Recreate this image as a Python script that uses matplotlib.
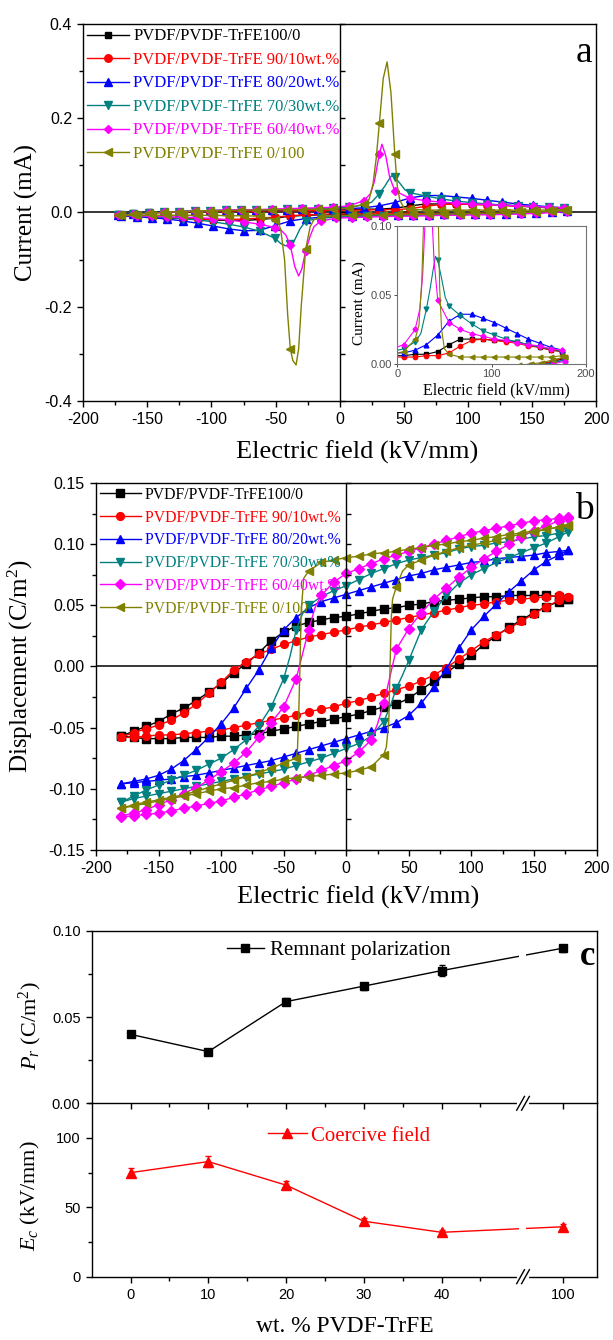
import numpy as np
import matplotlib
matplotlib.use('Agg')
import matplotlib.pyplot as plt
from matplotlib.ticker import MultipleLocator, FormatStrFormatter, FixedLocator

plt.rcParams['font.family'] = 'Liberation Sans'
plt.rcParams['axes.unicode_minus'] = False
plt.rcParams['mathtext.fontset'] = 'custom'
plt.rcParams['mathtext.rm'] = 'Liberation Serif'
plt.rcParams['mathtext.it'] = 'Liberation Serif:italic'
SERIF = 'Liberation Serif'

LABELS = ['PVDF/PVDF-TrFE100/0', 'PVDF/PVDF-TrFE 90/10wt.%', 'PVDF/PVDF-TrFE 80/20wt.%',
          'PVDF/PVDF-TrFE 70/30wt.%', 'PVDF/PVDF-TrFE 60/40wt.%', 'PVDF/PVDF-TrFE 0/100']
COLORS = ['#000000', '#ff0000', '#0000ff', '#008080', '#ff00ff', '#808000']
MARKERS = ['s', 'o', '^', 'v', 'D', '<']
MSIZE = [4.5, 5.0, 5.5, 5.5, 4.2, 5.5]

# ---------- panel a : current loops (mA) ----------
# field rising branch (positive switching peak)
E_UP_A = [-173, -161, -149, -137, -125, -113, -101, -89, -77, -65, -53, -41, -29, -17, -5,
          7, 19, 31, 43, 55, 67, 79, 91, 103, 115, 127, 139, 151, 163, 175]
I_UP_100_0 = [-0.004, -0.002, 0.000, 0.001, 0.002, 0.002, 0.003, 0.003, 0.004, 0.004, 0.004, 0.005, 0.005, 0.005, 0.006,
              0.006, 0.007, 0.007, 0.009, 0.014, 0.018, 0.018, 0.018, 0.017, 0.017, 0.016, 0.014, 0.012, 0.010, 0.009]
I_UP_90_10 = [-0.005, -0.003, -0.001, 0.000, 0.001, 0.002, 0.002, 0.003, 0.003, 0.003, 0.004, 0.004, 0.004, 0.004, 0.005,
              0.005, 0.005, 0.006, 0.006, 0.008, 0.013, 0.017, 0.018, 0.017, 0.016, 0.015, 0.013, 0.012, 0.010, 0.009]
I_UP_80_20 = [-0.005, -0.003, -0.001, 0.001, 0.002, 0.003, 0.004, 0.004, 0.005, 0.005, 0.006, 0.006, 0.007, 0.007, 0.008,
              0.008, 0.010, 0.014, 0.021, 0.031, 0.036, 0.036, 0.033, 0.030, 0.026, 0.022, 0.018, 0.015, 0.012, 0.010]
I_UP_70_30 = [-0.005, -0.003, -0.001, 0.001, 0.002, 0.003, 0.004, 0.005, 0.005, 0.006, 0.006, 0.007, 0.008, 0.008, 0.009,
              0.011, 0.016, 0.040, 0.075, 0.042, 0.035, 0.029, 0.024, 0.021, 0.018, 0.016, 0.014, 0.012, 0.011, 0.009]
I_UP_60_40 = [-0.006, -0.004, -0.002, 0.000, 0.002, 0.003, 0.004, 0.005, 0.006, 0.006, 0.007, 0.008, 0.009, 0.010, 0.011,
              0.014, 0.025, 0.125, 0.046, 0.030, 0.025, 0.022, 0.020, 0.018, 0.017, 0.015, 0.014, 0.013, 0.011, 0.010]
I_UP_0_100 = [-0.006, -0.004, -0.002, 0.000, 0.002, 0.003, 0.004, 0.004, 0.005, 0.005, 0.006, 0.006, 0.006, 0.007, 0.007,
              0.009, 0.018, 0.190, 0.124, 0.007, 0.005, 0.005, 0.005, 0.005, 0.005, 0.005, 0.005, 0.005, 0.005, 0.006]
# extra points shaping the sharp peaks between markers
PK_UP_70_30_E = [25, 35, 38, 40.5, 47, 51]
PK_UP_70_30_I = [0.022, 0.055, 0.068, 0.078, 0.062, 0.048]
PK_UP_60_40_E = [24, 27, 29, 33, 36, 39]
PK_UP_60_40_I = [0.040, 0.065, 0.095, 0.145, 0.120, 0.075]
PK_UP_0_100_E = [23, 26, 28.5, 34, 37, 40, 45, 47, 50]
PK_UP_0_100_I = [0.028, 0.060, 0.115, 0.285, 0.320, 0.255, 0.055, 0.025, 0.011]

# field falling branch (negative switching peak)
E_DN_A = [177.5, 165.5, 153.5, 141.5, 129.5, 117.5, 105.5, 93.5, 81.5, 69.5, 57.5, 45.5, 33.5, 21.5, 9.5,
          -2.5, -14.5, -26.5, -38.5, -50.5, -62.5, -74.5, -86.5, -98.5, -110.5, -122.5, -134.5, -146.5, -158.5, -170.5]
I_DN_100_0 = [0.004, 0.002, 0.000, -0.001, -0.002, -0.002, -0.003, -0.003, -0.003, -0.003, -0.004, -0.004, -0.004, -0.004, -0.004,
              -0.005, -0.005, -0.006, -0.008, -0.012, -0.015, -0.017, -0.017, -0.016, -0.014, -0.013, -0.011, -0.009, -0.008, -0.007]
I_DN_90_10 = [0.005, 0.002, 0.000, -0.001, -0.002, -0.002, -0.002, -0.003, -0.003, -0.003, -0.003, -0.003, -0.003, -0.003, -0.003,
              -0.003, -0.004, -0.005, -0.007, -0.010, -0.012, -0.014, -0.015, -0.015, -0.014, -0.013, -0.012, -0.010, -0.009, -0.008]
I_DN_80_20 = [0.003, 0.001, -0.001, -0.002, -0.003, -0.003, -0.004, -0.004, -0.004, -0.005, -0.005, -0.005, -0.006, -0.006, -0.007,
              -0.008, -0.010, -0.013, -0.018, -0.028, -0.038, -0.039, -0.035, -0.029, -0.023, -0.018, -0.014, -0.011, -0.009, -0.007]
I_DN_70_30 = [0.003, 0.001, -0.001, -0.002, -0.003, -0.004, -0.004, -0.005, -0.005, -0.006, -0.006, -0.007, -0.007, -0.008, -0.009,
              -0.010, -0.012, -0.018, -0.068, -0.055, -0.040, -0.031, -0.025, -0.020, -0.016, -0.013, -0.011, -0.009, -0.008, -0.006]
I_DN_60_40 = [0.002, 0.000, -0.002, -0.003, -0.004, -0.005, -0.005, -0.006, -0.006, -0.007, -0.008, -0.008, -0.009, -0.010, -0.011,
              -0.012, -0.018, -0.082, -0.070, -0.032, -0.025, -0.020, -0.016, -0.013, -0.011, -0.010, -0.009, -0.008, -0.007, -0.006]
I_DN_0_100 = [0.005, 0.003, 0.001, 0.000, -0.001, -0.002, -0.002, -0.003, -0.003, -0.004, -0.004, -0.004, -0.005, -0.005, -0.006,
              -0.007, -0.010, -0.078, -0.290, -0.015, -0.008, -0.007, -0.007, -0.006, -0.006, -0.006, -0.006, -0.006, -0.006, -0.006]
PK_DN_70_30_E = [-31, -35, -42, -46]
PK_DN_70_30_I = [-0.035, -0.058, -0.071, -0.066]
PK_DN_60_40_E = [-20, -23, -29.5, -32, -35, -42, -46]
PK_DN_60_40_I = [-0.030, -0.050, -0.120, -0.135, -0.115, -0.048, -0.037]
PK_DN_0_100_E = [-20, -23, -30, -32, -34, -36.5, -40.5, -43, -46, -48]
PK_DN_0_100_I = [-0.015, -0.030, -0.200, -0.290, -0.324, -0.315, -0.220, -0.100, -0.036, -0.020]

# ---------- panel b : D-E loops (C/m2) ----------
E_B = [-180, -170, -160, -150, -140, -130, -120, -110, -100, -90, -80, -70, -60, -50, -40, -30, -20, -10, 0,
       10, 20, 30, 40, 50, 60, 70, 80, 90, 100, 110, 120, 130, 140, 150, 160, 170, 177]
# upper branch (field falling)
D_UP_100_0 = [-0.057, -0.053, -0.049, -0.045, -0.039, -0.034, -0.028, -0.021, -0.014, -0.005, 0.002, 0.011, 0.021, 0.028, 0.033, 0.036, 0.038, 0.040, 0.041,
              0.043, 0.045, 0.047, 0.048, 0.050, 0.051, 0.053, 0.054, 0.055, 0.056, 0.057, 0.057, 0.058, 0.058, 0.058, 0.058, 0.057, 0.055]
D_UP_90_10 = [-0.058, -0.054, -0.051, -0.048, -0.044, -0.038, -0.031, -0.022, -0.013, -0.003, 0.004, 0.010, 0.014, 0.018, 0.021, 0.024, 0.026, 0.028, 0.030,
              0.032, 0.034, 0.036, 0.038, 0.040, 0.042, 0.044, 0.046, 0.048, 0.050, 0.051, 0.053, 0.054, 0.055, 0.056, 0.057, 0.058, 0.057]
D_UP_80_20 = [-0.096, -0.094, -0.092, -0.089, -0.084, -0.077, -0.068, -0.058, -0.047, -0.034, -0.018, -0.003, 0.015, 0.030, 0.040, 0.048, 0.053, 0.056, 0.059,
              0.062, 0.065, 0.068, 0.071, 0.074, 0.076, 0.079, 0.081, 0.083, 0.085, 0.086, 0.088, 0.089, 0.090, 0.091, 0.093, 0.094, 0.095]
D_UP_70_30 = [-0.111, -0.106, -0.101, -0.097, -0.093, -0.089, -0.085, -0.080, -0.075, -0.068, -0.060, -0.049, -0.033, -0.010, 0.030, 0.050, 0.057, 0.062, 0.066,
              0.071, 0.076, 0.080, 0.084, 0.087, 0.089, 0.091, 0.093, 0.096, 0.098, 0.099, 0.101, 0.102, 0.104, 0.106, 0.107, 0.109, 0.111]
D_UP_60_40 = [-0.122, -0.120, -0.117, -0.113, -0.109, -0.104, -0.099, -0.093, -0.086, -0.079, -0.070, -0.058, -0.046, -0.033, -0.010, 0.030, 0.058, 0.069, 0.076,
              0.080, 0.084, 0.088, 0.091, 0.094, 0.097, 0.100, 0.103, 0.106, 0.109, 0.111, 0.113, 0.115, 0.117, 0.119, 0.120, 0.121, 0.122]
D_UP_0_100 = [-0.116, -0.113, -0.111, -0.109, -0.107, -0.105, -0.102, -0.099, -0.096, -0.093, -0.090, -0.087, -0.083, -0.079, -0.075, 0.078, 0.085, 0.087, 0.089,
              0.090, 0.092, 0.093, 0.094, 0.096, 0.097, 0.099, 0.100, 0.102, 0.103, 0.105, 0.106, 0.108, 0.109, 0.111, 0.112, 0.114, 0.115]
# lower branch (field rising)
D_LO_100_0 = [-0.057, -0.058, -0.059, -0.059, -0.059, -0.058, -0.058, -0.058, -0.057, -0.057, -0.056, -0.055, -0.053, -0.051, -0.049, -0.047, -0.045, -0.043, -0.041,
              -0.039, -0.036, -0.033, -0.031, -0.026, -0.019, -0.012, -0.005, 0.002, 0.009, 0.018, 0.025, 0.032, 0.038, 0.044, 0.049, 0.053, 0.055]
D_LO_90_10 = [-0.058, -0.058, -0.057, -0.056, -0.056, -0.055, -0.054, -0.053, -0.052, -0.050, -0.048, -0.046, -0.044, -0.042, -0.040, -0.037, -0.035, -0.033, -0.030,
              -0.028, -0.025, -0.022, -0.019, -0.016, -0.012, -0.007, -0.001, 0.006, 0.013, 0.020, 0.026, 0.031, 0.037, 0.043, 0.049, 0.054, 0.057]
D_LO_80_20 = [-0.096, -0.095, -0.094, -0.093, -0.092, -0.090, -0.089, -0.087, -0.085, -0.083, -0.081, -0.079, -0.077, -0.074, -0.071, -0.068, -0.065, -0.062, -0.059,
              -0.056, -0.053, -0.050, -0.046, -0.040, -0.030, -0.017, -0.002, 0.015, 0.030, 0.041, 0.051, 0.061, 0.070, 0.079, 0.086, 0.091, 0.095]
D_LO_70_30 = [-0.111, -0.108, -0.106, -0.104, -0.102, -0.100, -0.098, -0.096, -0.094, -0.092, -0.090, -0.088, -0.086, -0.084, -0.081, -0.078, -0.075, -0.071, -0.067,
              -0.063, -0.057, -0.045, -0.018, 0.005, 0.030, 0.045, 0.058, 0.068, 0.075, 0.080, 0.085, 0.089, 0.093, 0.097, 0.101, 0.106, 0.110]
D_LO_60_40 = [-0.123, -0.122, -0.121, -0.120, -0.118, -0.116, -0.114, -0.112, -0.110, -0.107, -0.104, -0.101, -0.098, -0.095, -0.092, -0.089, -0.085, -0.081, -0.077,
              -0.070, -0.060, -0.030, 0.014, 0.031, 0.044, 0.055, 0.064, 0.073, 0.081, 0.088, 0.094, 0.100, 0.106, 0.111, 0.115, 0.119, 0.121]
D_LO_0_100 = [-0.116, -0.114, -0.112, -0.110, -0.108, -0.106, -0.104, -0.102, -0.100, -0.099, -0.097, -0.095, -0.094, -0.092, -0.091, -0.090, -0.089, -0.088, -0.087,
              -0.085, -0.082, -0.072, 0.065, 0.083, 0.087, 0.091, 0.094, 0.097, 0.099, 0.101, 0.103, 0.106, 0.108, 0.110, 0.112, 0.114, 0.116]
# extra points on the steep switching parts
SW_UP_70_30_E = [-45, -35]
SW_UP_70_30_D = [0.008, 0.043]
SW_UP_60_40_E = [-35, -25]
SW_UP_60_40_D = [0.010, 0.048]
SW_UP_0_100_E = [-39, -38, -37, -36, -34]
SW_UP_0_100_D = [-0.068, -0.040, 0.000, 0.045, 0.072]
SW_LO_70_30_E = [35, 45]
SW_LO_70_30_D = [-0.033, -0.007]
SW_LO_60_40_E = [25, 35]
SW_LO_60_40_D = [-0.047, -0.008]
SW_LO_0_100_E = [32, 34, 35, 36, 37, 45]
SW_LO_0_100_D = [-0.066, -0.045, 0.000, 0.040, 0.055, 0.078]

# ---------- panel c ----------
WT = [0, 10, 20, 30, 40, 100]
WT_LABELS = ['0', '10', '20', '30', '40', '100']
PR = [0.040, 0.030, 0.059, 0.068, 0.077, 0.090]
PR_ERR = [0.001, 0.001, 0.002, 0.002, 0.003, 0.002]
EC = [75, 83, 66, 40, 32, 36]
EC_ERR = [3, 4, 3, 2, 2, 2]


def merged(xg, yg, xe=(), ye=()):
    x = np.array(list(xg) + list(xe), dtype=float)
    y = np.array(list(yg) + list(ye), dtype=float)
    order = np.argsort(x)
    x, y = x[order], y[order]
    grid = set(float(v) for v in xg)
    marks = [i for i, v in enumerate(x) if v in grid]
    return x, y, marks


def draw_loops(ax, branches, msc=1.0, lw=1.0):
    handles = []
    for i in range(6):
        first = None
        for (xg, yg, xe, ye) in branches[i]:
            x, y, marks = merged(xg, yg, xe, ye)
            ln, = ax.plot(x, y, color=COLORS[i], marker=MARKERS[i], markevery=marks,
                          ms=MSIZE[i] * msc, mec=COLORS[i], lw=lw)
            if first is None:
                first = ln
        handles.append(first)
    return handles


def zero_axes(ax, ylim, step):
    # Origin-style extra axis lines through the origin
    ax.axhline(0, color='black', lw=1.1, zorder=1)
    tw = ax.twinx()
    tw.set_ylim(*ylim)
    for s in ['left', 'top', 'bottom']:
        tw.spines[s].set_visible(False)
    tw.spines['right'].set_position(('data', 0))
    tw.spines['right'].set_linewidth(1.0)
    tw.yaxis.set_major_locator(MultipleLocator(step))
    tw.tick_params(axis='y', direction='out', length=3.5, width=1.0, labelright=False)


def style_main(ax):
    for s in ax.spines.values():
        s.set_linewidth(1.0)
    ax.tick_params(which='major', direction='out', length=4.5, width=1.0, labelsize=11.5)
    ax.tick_params(which='minor', direction='out', length=3, width=1.0)
    ax.tick_params(top=False, right=False)


def legend_main(ax, handles, size, hl, spacing):
    leg = ax.legend(handles, LABELS, loc='upper left', frameon=False,
                    prop={'family': SERIF, 'size': size}, handlelength=hl,
                    handletextpad=0.25, labelspacing=spacing, borderpad=0.0,
                    borderaxespad=0.25, numpoints=1)
    for t, c in zip(leg.get_texts(), COLORS):
        t.set_color(c)
    return leg


fig = plt.figure(figsize=(6.13, 13.4), dpi=100)

# ================= panel a =================
ax_a = fig.add_axes([0.1359, 0.7010, 0.8364, 0.2809])
curr_up = [I_UP_100_0, I_UP_90_10, I_UP_80_20, I_UP_70_30, I_UP_60_40, I_UP_0_100]
curr_dn = [I_DN_100_0, I_DN_90_10, I_DN_80_20, I_DN_70_30, I_DN_60_40, I_DN_0_100]
peak_up = [([], []), ([], []), ([], []), (PK_UP_70_30_E, PK_UP_70_30_I),
           (PK_UP_60_40_E, PK_UP_60_40_I), (PK_UP_0_100_E, PK_UP_0_100_I)]
peak_dn = [([], []), ([], []), ([], []), (PK_DN_70_30_E, PK_DN_70_30_I),
           (PK_DN_60_40_E, PK_DN_60_40_I), (PK_DN_0_100_E, PK_DN_0_100_I)]
branches_a = [[(E_UP_A, curr_up[i], peak_up[i][0], peak_up[i][1]),
               (E_DN_A, curr_dn[i], peak_dn[i][0], peak_dn[i][1])] for i in range(6)]

handles_a = draw_loops(ax_a, branches_a, msc=1.08)
ax_a.set_xlim(-200, 200)
ax_a.set_ylim(-0.4, 0.4)
ax_a.xaxis.set_major_locator(MultipleLocator(50))
ax_a.xaxis.set_minor_locator(MultipleLocator(25))
ax_a.yaxis.set_major_locator(MultipleLocator(0.2))
ax_a.yaxis.set_minor_locator(MultipleLocator(0.1))
ax_a.yaxis.set_major_formatter(FormatStrFormatter('%.1f'))
style_main(ax_a)
ax_a.set_xlabel('Electric field (kV/mm)', family=SERIF, fontsize=19, va='center')
ax_a.xaxis.set_label_coords(0.534, -0.136)
ax_a.set_ylabel('Current (mA)', family=SERIF, fontsize=18, va='center')
ax_a.yaxis.set_label_coords(-0.11, 0.5)
ax_a.text(0.9766, 0.924, 'a', transform=ax_a.transAxes, family=SERIF, fontsize=27,
          ha='center', va='center')
legend_main(ax_a, handles_a, 12, 2.5, 0.45)
zero_axes(ax_a, (-0.4, 0.4), 0.1)

# inset
ax_in = fig.add_axes([0.648, 0.7284, 0.3078, 0.103])
ax_in.set_facecolor('white')
ax_in.set_zorder(5)
draw_loops(ax_in, branches_a, msc=0.62, lw=0.8)
ax_in.set_xlim(0, 200)
ax_in.set_ylim(0, 0.1)
ax_in.xaxis.set_major_locator(FixedLocator([0, 100, 200]))
ax_in.yaxis.set_major_locator(FixedLocator([0.0, 0.05, 0.10]))
ax_in.yaxis.set_major_formatter(FormatStrFormatter('%.2f'))
for s in ax_in.spines.values():
    s.set_color('0.45')
    s.set_linewidth(0.8)
ax_in.tick_params(direction='out', length=2.5, width=0.7, labelsize=8, pad=1.5, colors='0.3')
ax_in.set_xlabel('Electric field (kV/mm)', family=SERIF, fontsize=11.5, va='center')
ax_in.xaxis.set_label_coords(0.527, -0.19)
ax_in.set_ylabel('Current (mA)', family=SERIF, fontsize=11, va='center')
ax_in.yaxis.set_label_coords(-0.2, 0.44)

# ================= panel b =================
ax_b = fig.add_axes([0.1566, 0.3657, 0.8165, 0.2739])
d_up = [D_UP_100_0, D_UP_90_10, D_UP_80_20, D_UP_70_30, D_UP_60_40, D_UP_0_100]
d_lo = [D_LO_100_0, D_LO_90_10, D_LO_80_20, D_LO_70_30, D_LO_60_40, D_LO_0_100]
sw_up = [([], []), ([], []), ([], []), (SW_UP_70_30_E, SW_UP_70_30_D),
         (SW_UP_60_40_E, SW_UP_60_40_D), (SW_UP_0_100_E, SW_UP_0_100_D)]
sw_lo = [([], []), ([], []), ([], []), (SW_LO_70_30_E, SW_LO_70_30_D),
         (SW_LO_60_40_E, SW_LO_60_40_D), (SW_LO_0_100_E, SW_LO_0_100_D)]
branches_b = [[(E_B, d_up[i], sw_up[i][0], sw_up[i][1]),
               (E_B, d_lo[i], sw_lo[i][0], sw_lo[i][1])] for i in range(6)]
handles_b = draw_loops(ax_b, branches_b, msc=1.12)
ax_b.set_xlim(-200, 200)
ax_b.set_ylim(-0.15, 0.15)
ax_b.xaxis.set_major_locator(MultipleLocator(50))
ax_b.xaxis.set_minor_locator(MultipleLocator(25))
ax_b.yaxis.set_major_locator(MultipleLocator(0.05))
ax_b.yaxis.set_minor_locator(MultipleLocator(0.025))
ax_b.yaxis.set_major_formatter(FormatStrFormatter('%.2f'))
style_main(ax_b)
ax_b.set_xlabel('Electric field (kV/mm)', family=SERIF, fontsize=19, va='center')
ax_b.xaxis.set_label_coords(0.523, -0.128)
ax_b.set_ylabel('Displacement (C/m$^2$)', family=SERIF, fontsize=18, va='center')
ax_b.yaxis.set_label_coords(-0.151, 0.5)
ax_b.text(0.975, 0.926, 'b', transform=ax_b.transAxes, family=SERIF, fontsize=27,
          ha='center', va='center')
legend_main(ax_b, handles_b, 11.3, 2.6, 0.43)
zero_axes(ax_b, (-0.15, 0.15), 0.025)

# ================= panel c =================
def brk(v):
    # broken x axis: 100 wt.% sits just after the break
    return v if v <= 45 else v - 44.4

xc = [brk(v) for v in WT]
ax_c1 = fig.add_axes([0.1496, 0.17664, 0.8243, 0.1286])
ax_c2 = fig.add_axes([0.1496, 0.04724, 0.8243, 0.1294])
ax_c1.set_zorder(3)

e1 = ax_c1.errorbar(xc, PR, yerr=PR_ERR, fmt='-s', color='black', ms=6, lw=1.0,
                    capsize=2, elinewidth=0.8)
e2 = ax_c2.errorbar(xc, EC, yerr=EC_ERR, fmt='-^', color='#ff0000', ms=7, lw=1.0,
                    capsize=2, elinewidth=0.8)

for ax in (ax_c1, ax_c2):
    ax.set_xlim(-5, 60)
    ax.xaxis.set_major_locator(FixedLocator(xc))
    ax.xaxis.set_minor_locator(FixedLocator([5, 15, 25, 35, 45]))
    for s in ax.spines.values():
        s.set_linewidth(1.0)
    ax.tick_params(which='major', direction='out', length=4.5, width=1.0, labelsize=10.5)
    ax.tick_params(which='minor', direction='out', length=3, width=1.0)
    # gap in the line at the axis break
    ax.axvspan(50.0, 50.9, color='white', zorder=2.2, lw=0)
    tr = ax.get_xaxis_transform()
    ax.plot([50.0, 50.95], [0, 0], color='white', lw=3, transform=tr, clip_on=False, zorder=4)
    for cx in (50.17, 50.8):
        ax.plot([cx - 0.5, cx + 0.5], [-0.04, 0.04], color='black', lw=1.0,
                transform=tr, clip_on=False, zorder=5)

ax_c1.set_ylim(0, 0.10)
ax_c1.yaxis.set_major_locator(MultipleLocator(0.05))
ax_c1.yaxis.set_minor_locator(MultipleLocator(0.025))
ax_c1.yaxis.set_major_formatter(FormatStrFormatter('%.2f'))
ax_c1.tick_params(labelbottom=False)
ax_c2.set_ylim(0, 125)
ax_c2.yaxis.set_major_locator(MultipleLocator(50))
ax_c2.yaxis.set_minor_locator(MultipleLocator(25))
ax_c2.spines['top'].set_visible(False)
ax_c2.set_xticklabels(WT_LABELS)

ax_c1.set_ylabel('$P_r$ (C/m$^2$)', family=SERIF, fontsize=16, va='center')
ax_c1.yaxis.set_label_coords(-0.122, 0.45)
ax_c2.set_ylabel('$E_c$ (kV/mm)', family=SERIF, fontsize=16, va='center')
ax_c2.yaxis.set_label_coords(-0.122, 0.47)
ax_c2.set_xlabel('wt. % PVDF-TrFE', family=SERIF, fontsize=17, va='center')
ax_c2.xaxis.set_label_coords(0.501, -0.29)
ax_c1.text(0.982, 0.85, 'c', transform=ax_c1.transAxes, family=SERIF, fontsize=25,
           fontweight='bold', ha='center', va='center')

lg1 = ax_c1.legend([e1.lines[0]], ['Remnant polarization'], loc='center left',
                   bbox_to_anchor=(0.268, 0.886), frameon=False, borderpad=0, borderaxespad=0,
                   handlelength=1.75, handletextpad=0.3, numpoints=1,
                   prop={'family': SERIF, 'size': 15})
lg2 = ax_c2.legend([e2.lines[0]], ['Coercive field'], loc='center left',
                   bbox_to_anchor=(0.349, 0.813), frameon=False, borderpad=0, borderaxespad=0,
                   handlelength=1.85, handletextpad=0.2, numpoints=1,
                   prop={'family': SERIF, 'size': 15})
lg2.get_texts()[0].set_color('#ff0000')

fig.savefig('out.png', dpi=100, facecolor='white')
